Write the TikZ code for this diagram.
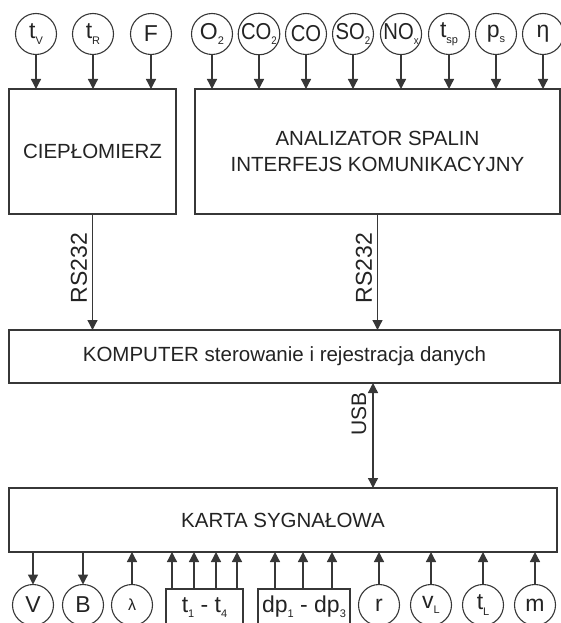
\documentclass[tikz,border=0pt]{standalone}
\usepackage{fontspec}
\setmainfont{Liberation Sans}
\usetikzlibrary{arrows.meta}
\newcommand{\lsub}[1]{\raisebox{-0.45ex}{\fontsize{11}{11}\selectfont #1}}
\newcommand{\nar}[1]{\scalebox{0.88}[1]{#1}}
\definecolor{linec}{RGB}{55,55,55}
\definecolor{txtc}{RGB}{35,35,35}
\begin{document}
\begin{tikzpicture}[x=1pt,y=-1pt,
  ln/.style={draw=linec, line width=1.3pt},
  arr/.style={ln, -{Triangle[width=10pt,length=10pt]}},
  darr/.style={ln, {Triangle[width=10pt,length=10pt]}-{Triangle[width=10pt,length=10pt]}},
  circ/.style={circle, draw=linec, line width=1.1pt, minimum size=41pt, inner sep=0pt, outer sep=0pt, font=\fontsize{23}{23}\selectfont, text=txtc},
  box/.style={rectangle, draw=linec, line width=1.3pt, inner sep=0pt, outer sep=0pt, font=\fontsize{20.5}{26.5}\selectfont, align=center, text=txtc},
  lbl/.style={font=\fontsize{23}{23}\selectfont, text=txtc, rotate=90, inner sep=0pt}]
\useasboundingbox (0,0) rectangle (561,623);
\clip (0,0) rectangle (561,623);
% top circles
\node[circ] (tv) at (36,34) {t\lsub{V}};
\node[circ] (tr) at (93,34) {t\lsub{R}};
\node[circ] (f) at (151,34) {F};
\node[circ] (o2) at (212,34) {O\lsub{2}};
\node[circ] (co2) at (259,34) {\nar{CO\lsub{2}}};
\node[circ] (co) at (306,34) {\nar{CO}};
\node[circ] (so2) at (353,34) {\nar{SO\lsub{2}}};
\node[circ] (nox) at (401,34) {\nar{NO\lsub{x}}};
\node[circ] (tsp) at (449,34) {t\lsub{sp}};
\node[circ] (ps) at (496,34) {p\lsub{s}};
\node[circ] (eta) at (543,34) {η};
% boxes
\node[box, minimum width=167, minimum height=125] (cm) at (92.5,151.5) {CIEPŁOMIERZ};
\node[box, minimum width=365, minimum height=125] (an) at (377.5,151.5) {ANALIZATOR SPALIN\\INTERFEJS KOMUNIKACYJNY};
\node[box, minimum width=551, minimum height=53] (komp) at (284.5,356.5) {KOMPUTER sterowanie i rejestracja danych};
\node[box, minimum width=548, minimum height=64] (karta) at (283,520) {KARTA SYGNAŁOWA};
% top arrows
\foreach \n in {tv,tr,f}{\draw[arr] (\n) -- (\n |- cm.north);}
\foreach \n in {o2,co2,co,so2,nox,tsp,ps,eta}{\draw[arr] (\n) -- (\n |- an.north);}
% RS232
\draw[arr] (cm.south) -- (cm.south |- komp.north);
\draw[arr] (an.south) -- (an.south |- komp.north);
\node[lbl] (rs1) at (79,268) {RS232};
\node[lbl] (rs2) at (364,268) {RS232};
% USB
\coordinate (usbtop) at (373,383);
\draw[darr] (usbtop) -- (usbtop |- karta.north);
\node[lbl, font=\fontsize{21}{21}\selectfont] (usb) at (359,414) {USB};
% bottom circles
\node[circ] (v) at (33,605) {V};
\node[circ] (b) at (83,605) {B};
\node[circ, font=\fontsize{16}{16}\selectfont] (lam) at (132,605) {λ};
\node[circ] (r) at (379,605) {r};
\node[circ] (vl) at (431,605) {v\lsub{L}};
\node[circ] (tl) at (483,605) {t\lsub{L}};
\node[circ] (m) at (535,605) {m};
% bottom boxes
\node[box, anchor=north, minimum width=77, text height=20pt, text depth=30pt, inner ysep=3pt, font=\fontsize{23}{23}\selectfont] (tb) at (204.5,589) {t\lsub{1} - t\lsub{4}};
\node[box, anchor=north, minimum width=92, text height=20pt, text depth=30pt, inner ysep=3pt, font=\fontsize{23}{23}\selectfont] (dpb) at (304,589) {dp\lsub{1} - dp\lsub{3}};
% bottom arrows
\draw[arr] (v |- karta.south) -- (v);
\draw[arr] (b |- karta.south) -- (b);
\draw[arr] (lam) -- (lam |- karta.south);
\foreach \x in {172,194,216,237}{\draw[arr] (\x,589) -- (\x,552);}
\foreach \x in {275,303,332}{\draw[arr] (\x,589) -- (\x,552);}
\foreach \n in {r,vl,tl,m}{\draw[arr] (\n) -- (\n |- karta.south);}
\end{tikzpicture}
\end{document}
